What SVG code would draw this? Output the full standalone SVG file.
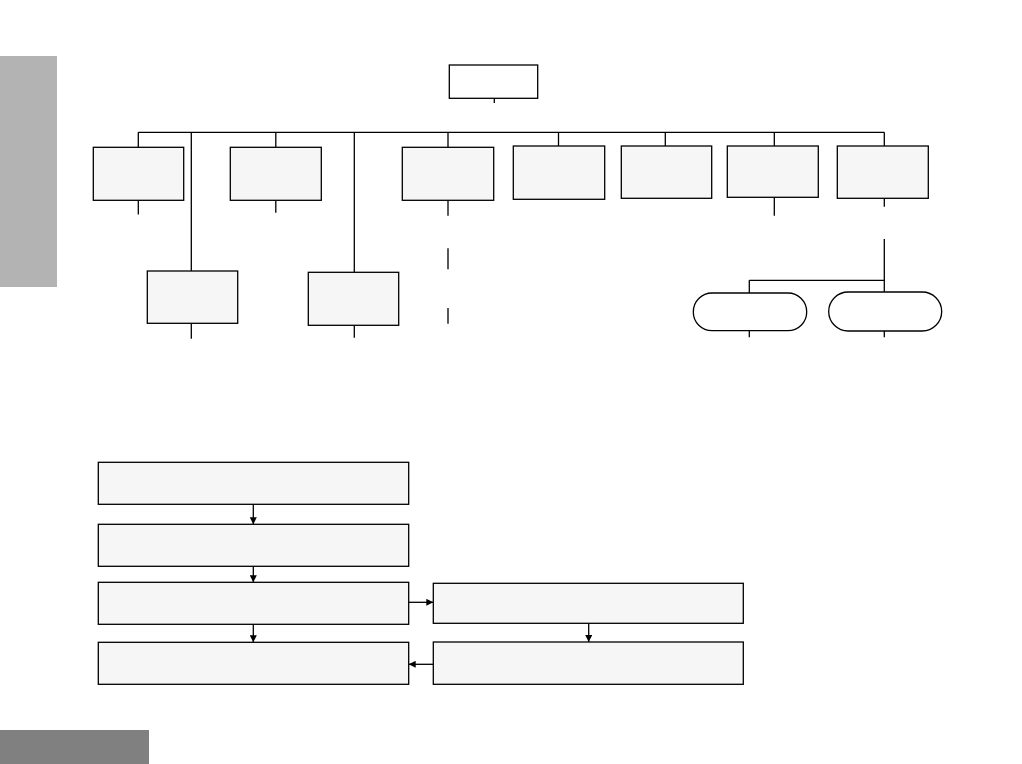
<svg xmlns="http://www.w3.org/2000/svg" width="1022" height="764" viewBox="0 0 1022 764">
<style>
.box{fill:#f6f6f6;stroke:#000;stroke-width:1.3}
.top{fill:#fff;stroke:#000;stroke-width:1.3}
.ln{fill:none;stroke:#000;stroke-width:1.3}
</style>
<defs>
<marker id="ah" viewBox="0 0 10 10" refX="10" refY="5" markerWidth="9" markerHeight="7" markerUnits="userSpaceOnUse" orient="auto">
<path d="M0,0 L10,5 L0,10 z" fill="#000"/>
</marker>
</defs>
<rect width="1022" height="764" fill="#fff"/>
<rect x="0" y="56" width="57" height="231" fill="#b3b3b3"/>
<rect x="0" y="730" width="149" height="34" fill="#808080"/>
<g id="connectors">
<path class="ln" d="M494.3,98 V103"/>
<path class="ln" d="M138.3,132.3 H884.3"/>
<path class="ln" d="M138.3,132.3 V147.3 M275.8,132.3 V147.3 M448,132.3 V147.3 M558.5,132.3 V146 M665.3,132.3 V146 M774.3,132.3 V146 M884.3,132.3 V146"/>
<path class="ln" d="M191.3,132.3 V271 M354.3,132.3 V272.3"/>
<path class="ln" d="M138.3,200.3 V214.5 M275.8,200.3 V212.7 M448,200.3 V215.7 M774.3,197.3 V215.7 M884.3,198.3 V206.7"/>
<path class="ln" d="M448,248.3 V269.3 M448,308 V323.7"/>
<path class="ln" d="M884.3,239 V292 M749.3,280.3 H884.3 M749.3,280.3 V293"/>
<path class="ln" d="M749.3,330.7 V337.3 M884.3,331 V337.3"/>
<path class="ln" d="M191.3,323.3 V338.7 M354.3,325.3 V337.7"/>
<path class="ln" d="M253.3,504.3 V524.3" marker-end="url(#ah)"/>
<path class="ln" d="M253.3,566.3 V582.3" marker-end="url(#ah)"/>
<path class="ln" d="M253.3,624.3 V642.3" marker-end="url(#ah)"/>
<path class="ln" d="M408.7,602.3 H433.3" marker-end="url(#ah)"/>
<path class="ln" d="M588.7,623.3 V642" marker-end="url(#ah)"/>
<path class="ln" d="M433.3,664.3 H408.7" marker-end="url(#ah)"/>
</g>
<g id="root"><rect class="top" x="449.3" y="65" width="88.4" height="33.3"/></g>
<g id="n1"><rect class="box" x="93.3" y="147.3" width="90.4" height="53"/></g>
<g id="n2"><rect class="box" x="230.3" y="147.3" width="91" height="53"/></g>
<g id="n3"><rect class="box" x="402.3" y="147.3" width="91.4" height="53"/></g>
<g id="n4"><rect class="box" x="513.3" y="146" width="91.4" height="53.3"/></g>
<g id="n5"><rect class="box" x="621.3" y="146" width="90.4" height="52.3"/></g>
<g id="n6"><rect class="box" x="727.3" y="146" width="91" height="51.3"/></g>
<g id="n7"><rect class="box" x="837.3" y="146" width="91" height="52.3"/></g>
<g id="nA"><rect class="box" x="147.3" y="271" width="90.4" height="52.3"/></g>
<g id="nB"><rect class="box" x="308.3" y="272.3" width="90.4" height="53"/></g>
<g id="p1"><rect class="top" x="693.3" y="293" width="113.4" height="37.7" rx="18.8"/></g>
<g id="p2"><rect class="top" x="828.7" y="292" width="113" height="39" rx="19.5"/></g>
<g id="f1"><rect class="box" x="98.3" y="462.3" width="310.4" height="42"/></g>
<g id="f2"><rect class="box" x="98.3" y="524.3" width="310.4" height="42"/></g>
<g id="f3"><rect class="box" x="98.3" y="582.3" width="310.4" height="42"/></g>
<g id="f4"><rect class="box" x="98.3" y="642.3" width="310.4" height="42"/></g>
<g id="r1"><rect class="box" x="433.3" y="583.3" width="310" height="40"/></g>
<g id="r2"><rect class="box" x="433.3" y="642" width="310" height="42.3"/></g>
</svg>
